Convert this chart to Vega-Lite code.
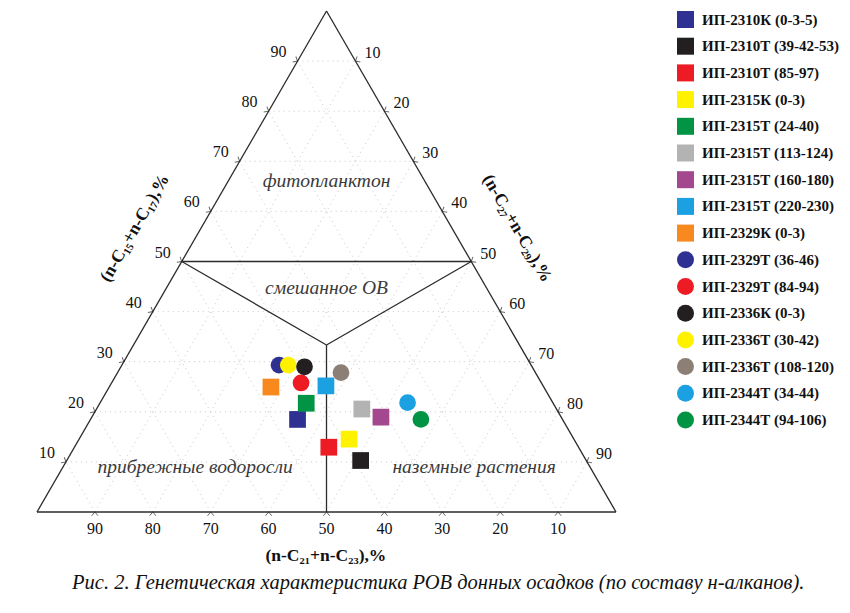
{
  "$schema": "https://vega.github.io/schema/vega-lite/v6.json",
  "width": 579,
  "height": 501,
  "autosize": {"type": "none"},
  "padding": {"left": 37, "top": 11, "right": 234, "bottom": 101},
  "background": "white",
  "config": {"view": {"stroke": null}, "font": "Liberation Serif"},
  "datasets": {
    "grid": [
      {"x": 5, "y": 8.66, "x2": 95, "y2": 8.66},
      {"x": 10, "y": 17.32, "x2": 90, "y2": 17.32},
      {"x": 15, "y": 25.98, "x2": 85, "y2": 25.98},
      {"x": 20, "y": 34.64, "x2": 80, "y2": 34.64},
      {"x": 25, "y": 43.3, "x2": 75, "y2": 43.3},
      {"x": 30, "y": 51.96, "x2": 70, "y2": 51.96},
      {"x": 35, "y": 60.62, "x2": 65, "y2": 60.62},
      {"x": 40, "y": 69.28, "x2": 60, "y2": 69.28},
      {"x": 45, "y": 77.94, "x2": 55, "y2": 77.94},
      {"x": 10, "y": 0, "x2": 55, "y2": 77.94},
      {"x": 20, "y": 0, "x2": 60, "y2": 69.28},
      {"x": 30, "y": 0, "x2": 65, "y2": 60.62},
      {"x": 40, "y": 0, "x2": 70, "y2": 51.96},
      {"x": 50, "y": 0, "x2": 75, "y2": 43.3},
      {"x": 60, "y": 0, "x2": 80, "y2": 34.64},
      {"x": 70, "y": 0, "x2": 85, "y2": 25.98},
      {"x": 80, "y": 0, "x2": 90, "y2": 17.32},
      {"x": 90, "y": 0, "x2": 95, "y2": 8.66},
      {"x": 10, "y": 0, "x2": 5, "y2": 8.66},
      {"x": 20, "y": 0, "x2": 10, "y2": 17.32},
      {"x": 30, "y": 0, "x2": 15, "y2": 25.98},
      {"x": 40, "y": 0, "x2": 20, "y2": 34.64},
      {"x": 50, "y": 0, "x2": 25, "y2": 43.3},
      {"x": 60, "y": 0, "x2": 30, "y2": 51.96},
      {"x": 70, "y": 0, "x2": 35, "y2": 60.62},
      {"x": 80, "y": 0, "x2": 40, "y2": 69.28},
      {"x": 90, "y": 0, "x2": 45, "y2": 77.94}
    ],
    "frame": [
      {"x": 0, "y": 0, "x2": 100, "y2": 0},
      {"x": 0, "y": 0, "x2": 50, "y2": 86.6},
      {"x": 100, "y": 0, "x2": 50, "y2": 86.6},
      {"x": 25, "y": 43.3, "x2": 75, "y2": 43.3},
      {"x": 25, "y": 43.3, "x2": 50, "y2": 28.87},
      {"x": 75, "y": 43.3, "x2": 50, "y2": 28.87},
      {"x": 50, "y": 28.87, "x2": 50, "y2": 0}
    ],
    "ticks": [
      {"side": "bottom", "x": 10, "y": 0, "label": "90"},
      {"side": "bottom", "x": 20, "y": 0, "label": "80"},
      {"side": "bottom", "x": 30, "y": 0, "label": "70"},
      {"side": "bottom", "x": 40, "y": 0, "label": "60"},
      {"side": "bottom", "x": 50, "y": 0, "label": "50"},
      {"side": "bottom", "x": 60, "y": 0, "label": "40"},
      {"side": "bottom", "x": 70, "y": 0, "label": "30"},
      {"side": "bottom", "x": 80, "y": 0, "label": "20"},
      {"side": "bottom", "x": 90, "y": 0, "label": "10"},
      {"side": "left", "x": 5, "y": 8.66, "label": "10"},
      {"side": "left", "x": 10, "y": 17.32, "label": "20"},
      {"side": "left", "x": 15, "y": 25.98, "label": "30"},
      {"side": "left", "x": 20, "y": 34.64, "label": "40"},
      {"side": "left", "x": 25, "y": 43.3, "label": "50"},
      {"side": "left", "x": 30, "y": 51.96, "label": "60"},
      {"side": "left", "x": 35, "y": 60.62, "label": "70"},
      {"side": "left", "x": 40, "y": 69.28, "label": "80"},
      {"side": "left", "x": 45, "y": 77.94, "label": "90"},
      {"side": "right", "x": 55, "y": 77.94, "label": "10"},
      {"side": "right", "x": 60, "y": 69.28, "label": "20"},
      {"side": "right", "x": 65, "y": 60.62, "label": "30"},
      {"side": "right", "x": 70, "y": 51.96, "label": "40"},
      {"side": "right", "x": 75, "y": 43.3, "label": "50"},
      {"side": "right", "x": 80, "y": 34.64, "label": "60"},
      {"side": "right", "x": 85, "y": 25.98, "label": "70"},
      {"side": "right", "x": 90, "y": 17.32, "label": "80"},
      {"side": "right", "x": 95, "y": 8.66, "label": "90"}
    ],
    "regions": [
      {"x": 50, "y": 57.2, "text": "фитопланктон"},
      {"x": 50, "y": 38.7, "text": "смешанное ОВ"},
      {"x": 27.3, "y": 7.8, "text": "прибрежные водоросли"},
      {"x": 75.5, "y": 7.8, "text": "наземные растения"}
    ],
    "titles": [
      {"kind": "bottom", "x": 49.9, "y": -7.6, "text": "(n-C₂₁+n-C₂₃),%"},
      {"kind": "left", "x": 16.9, "y": 49.05, "text": "(n-C₁₅+n-C₁₇),%"},
      {"kind": "right", "x": 82.9, "y": 49.05, "text": "(n-C₂₇+n-C₂₉),%"},
      {"kind": "caption", "x": 69.3, "y": -12.2, "text": "Рис. 2. Генетическая характеристика РОВ донных осадков (по составу н-алканов)."}
    ],
    "samples": [
      {"sample": "ИП-2310К (0-3-5)", "x": 45.0, "y": 16.0},
      {"sample": "ИП-2310Т (39-42-53)", "x": 55.9, "y": 8.9},
      {"sample": "ИП-2310Т (85-97)", "x": 50.4, "y": 11.2},
      {"sample": "ИП-2315К (0-3)", "x": 53.9, "y": 12.6},
      {"sample": "ИП-2315Т (24-40)", "x": 46.5, "y": 18.8},
      {"sample": "ИП-2315Т (113-124)", "x": 56.1, "y": 17.8},
      {"sample": "ИП-2315Т (160-180)", "x": 59.4, "y": 16.4},
      {"sample": "ИП-2315Т (220-230)", "x": 49.9, "y": 21.8},
      {"sample": "ИП-2329К (0-3)", "x": 40.4, "y": 21.6},
      {"sample": "ИП-2329Т (36-46)", "x": 41.8, "y": 25.4},
      {"sample": "ИП-2329Т (84-94)", "x": 45.6, "y": 22.3},
      {"sample": "ИП-2336Т (30-42)", "x": 43.4, "y": 25.4},
      {"sample": "ИП-2336К (0-3)", "x": 46.2, "y": 25.1},
      {"sample": "ИП-2336Т (108-120)", "x": 52.5, "y": 24.1},
      {"sample": "ИП-2344Т (34-44)", "x": 64.0, "y": 18.9},
      {"sample": "ИП-2344Т (94-106)", "x": 66.3, "y": 16.0}
    ]
  },
  "layer": [
    {
      "data": {"name": "grid"},
      "mark": {"type": "rule", "color": "#c8c8c8", "strokeWidth": 1, "strokeDash": [1, 4]},
      "encoding": {
        "x": {"field": "x", "type": "quantitative", "scale": {"domain": [0, 100], "nice": false, "zero": false}, "axis": null},
        "y": {"field": "y", "type": "quantitative", "scale": {"domain": [0, 86.6], "nice": false, "zero": false}, "axis": null},
        "x2": {"field": "x2"},
        "y2": {"field": "y2"}
      }
    },
    {
      "data": {"name": "frame"},
      "mark": {"type": "rule", "color": "#2b2b2b", "strokeWidth": 1.3},
      "encoding": {
        "x": {"field": "x", "type": "quantitative"},
        "y": {"field": "y", "type": "quantitative"},
        "x2": {"field": "x2"},
        "y2": {"field": "y2"}
      }
    },
    {
      "data": {"name": "ticks"},
      "transform": [{"filter": "datum.side === 'bottom'"}],
      "layer": [
        {"mark": {"type": "point", "shape": "M-1,1.2L0,0L1,1.2", "size": 40, "filled": false, "stroke": "#2b2b2b", "strokeWidth": 1, "angle": 0},
         "encoding": {"x": {"field": "x", "type": "quantitative"}, "y": {"field": "y", "type": "quantitative"}}},
        {"mark": {"type": "text", "fontSize": 16, "font": "Liberation Serif", "color": "#111", "dy": 17, "baseline": "middle", "align": "center"},
         "encoding": {"x": {"field": "x", "type": "quantitative"}, "y": {"field": "y", "type": "quantitative"}, "text": {"field": "label"}}}
      ]
    },
    {
      "data": {"name": "ticks"},
      "transform": [{"filter": "datum.side === 'left'"}],
      "layer": [
        {"mark": {"type": "point", "shape": "M-1,1.2L0,0L1,1.2", "size": 40, "filled": false, "stroke": "#2b2b2b", "strokeWidth": 1, "angle": 120},
         "encoding": {"x": {"field": "x", "type": "quantitative"}, "y": {"field": "y", "type": "quantitative"}}},
        {"mark": {"type": "text", "fontSize": 16, "font": "Liberation Serif", "color": "#111", "dx": -19, "dy": -9, "baseline": "middle", "align": "center"},
         "encoding": {"x": {"field": "x", "type": "quantitative"}, "y": {"field": "y", "type": "quantitative"}, "text": {"field": "label"}}}
      ]
    },
    {
      "data": {"name": "ticks"},
      "transform": [{"filter": "datum.side === 'right'"}],
      "layer": [
        {"mark": {"type": "point", "shape": "M-1,1.2L0,0L1,1.2", "size": 40, "filled": false, "stroke": "#2b2b2b", "strokeWidth": 1, "angle": 240},
         "encoding": {"x": {"field": "x", "type": "quantitative"}, "y": {"field": "y", "type": "quantitative"}}},
        {"mark": {"type": "text", "fontSize": 16, "font": "Liberation Serif", "color": "#111", "dx": 17, "dy": -8, "baseline": "middle", "align": "center"},
         "encoding": {"x": {"field": "x", "type": "quantitative"}, "y": {"field": "y", "type": "quantitative"}, "text": {"field": "label"}}}
      ]
    },
    {
      "data": {"name": "regions"},
      "mark": {"type": "text", "fontSize": 19.5, "font": "Liberation Serif", "fontStyle": "italic", "color": "#3a3a3a", "baseline": "middle", "align": "center"},
      "encoding": {"x": {"field": "x", "type": "quantitative"}, "y": {"field": "y", "type": "quantitative"}, "text": {"field": "text"}}
    },
    {
      "data": {"name": "titles"},
      "transform": [{"filter": "datum.kind === 'bottom'"}],
      "mark": {"type": "text", "fontSize": 17.5, "font": "Liberation Serif", "fontWeight": "bold", "color": "#111", "baseline": "middle", "align": "center"},
      "encoding": {"x": {"field": "x", "type": "quantitative"}, "y": {"field": "y", "type": "quantitative"}, "text": {"field": "text"}}
    },
    {
      "data": {"name": "titles"},
      "transform": [{"filter": "datum.kind === 'left'"}],
      "mark": {"type": "text", "fontSize": 17.5, "font": "Liberation Serif", "fontWeight": "bold", "color": "#111", "baseline": "middle", "align": "center", "angle": 300},
      "encoding": {"x": {"field": "x", "type": "quantitative"}, "y": {"field": "y", "type": "quantitative"}, "text": {"field": "text"}}
    },
    {
      "data": {"name": "titles"},
      "transform": [{"filter": "datum.kind === 'right'"}],
      "mark": {"type": "text", "fontSize": 17.5, "font": "Liberation Serif", "fontWeight": "bold", "color": "#111", "baseline": "middle", "align": "center", "angle": 60},
      "encoding": {"x": {"field": "x", "type": "quantitative"}, "y": {"field": "y", "type": "quantitative"}, "text": {"field": "text"}}
    },
    {
      "data": {"name": "titles"},
      "transform": [{"filter": "datum.kind === 'caption'"}],
      "mark": {"type": "text", "fontSize": 20.5, "font": "Liberation Serif", "fontStyle": "italic", "color": "#111", "baseline": "middle", "align": "center"},
      "encoding": {"x": {"field": "x", "type": "quantitative"}, "y": {"field": "y", "type": "quantitative"}, "text": {"field": "text"}}
    },
    {
      "data": {"name": "samples"},
      "mark": {"type": "point", "filled": true, "size": 280, "opacity": 1, "strokeWidth": 0},
      "encoding": {
        "x": {"field": "x", "type": "quantitative"},
        "y": {"field": "y", "type": "quantitative"},
        "color": {
          "field": "sample", "type": "nominal",
          "scale": {
            "domain": ["ИП-2310К (0-3-5)", "ИП-2310Т (39-42-53)", "ИП-2310Т (85-97)", "ИП-2315К (0-3)", "ИП-2315Т (24-40)", "ИП-2315Т (113-124)", "ИП-2315Т (160-180)", "ИП-2315Т (220-230)", "ИП-2329К (0-3)", "ИП-2329Т (36-46)", "ИП-2329Т (84-94)", "ИП-2336К (0-3)", "ИП-2336Т (30-42)", "ИП-2336Т (108-120)", "ИП-2344Т (34-44)", "ИП-2344Т (94-106)"],
            "range": ["#2e3192", "#231f20", "#ed1c24", "#fff200", "#009444", "#b3b3b3", "#a3478f", "#1ba1e2", "#f7891f", "#2e3192", "#ed1c24", "#231f20", "#fff200", "#8c7f76", "#1ba1e2", "#009444"]
          },
          "legend": {
            "orient": "none", "legendX": 640, "legendY": 0, "title": null,
            "symbolSize": 289, "symbolStrokeWidth": 0, "symbolOpacity": 1,
            "labelFont": "Liberation Serif", "labelFontWeight": "bold", "labelFontSize": 15, "labelColor": "#111",
            "labelOffset": 8, "labelLimit": 300, "rowPadding": 9.7, "padding": 0, "offset": 0
          }
        },
        "shape": {
          "field": "sample", "type": "nominal",
          "scale": {
            "domain": ["ИП-2310К (0-3-5)", "ИП-2310Т (39-42-53)", "ИП-2310Т (85-97)", "ИП-2315К (0-3)", "ИП-2315Т (24-40)", "ИП-2315Т (113-124)", "ИП-2315Т (160-180)", "ИП-2315Т (220-230)", "ИП-2329К (0-3)", "ИП-2329Т (36-46)", "ИП-2329Т (84-94)", "ИП-2336К (0-3)", "ИП-2336Т (30-42)", "ИП-2336Т (108-120)", "ИП-2344Т (34-44)", "ИП-2344Т (94-106)"],
            "range": ["square", "square", "square", "square", "square", "square", "square", "square", "square", "circle", "circle", "circle", "circle", "circle", "circle", "circle"]
          }
        }
      }
    }
  ]
}
